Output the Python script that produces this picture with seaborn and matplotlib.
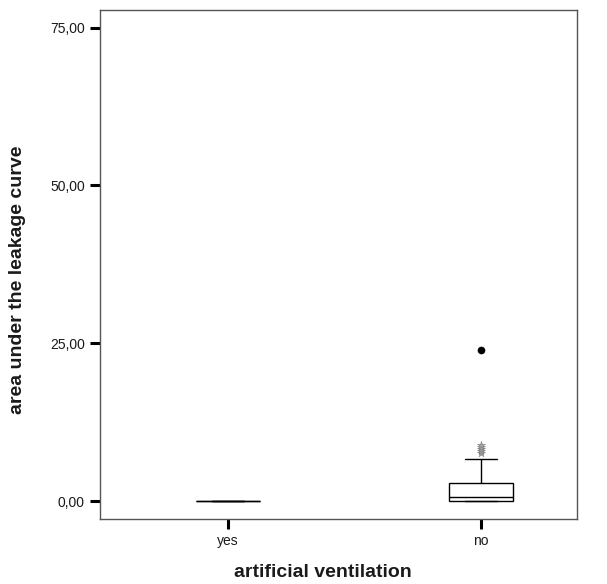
import numpy as np
import pandas as pd
import matplotlib
matplotlib.use("Agg")
import matplotlib.pyplot as plt
import seaborn as sns

categories = ["yes", "no"]

# area under the leakage curve per group
yes_values = [0.0, 0.0, 0.0, 0.0, 0.0, 0.0, 0.0, 0.0]
no_values = [0.0, 0.0, 0.0, 0.0, 0.0, 0.0, 0.0, 0.0, 0.0, 0.0, 0.0,
             0.02, 0.05, 0.1, 0.15, 0.2, 0.3, 0.4, 0.5, 0.6,
             0.68,
             0.8, 0.95, 1.1, 1.3, 1.5, 1.8, 2.1, 2.4, 2.7,
             2.9,
             3.3, 4.2, 5.2, 6.6,
             7.6, 8.0, 8.3, 8.6, 8.9, 23.9]

outlier_values = [7.6, 8.0, 8.3, 8.6, 8.9]
extreme_values = [23.9]

y_ticks = [0, 25, 50, 75]

df = pd.DataFrame({
    "group": ["yes"] * len(yes_values) + ["no"] * len(no_values),
    "value": yes_values + no_values,
})

sns.set_style("white")
plt.rcParams["font.family"] = ["Liberation Sans", "DejaVu Sans"]
plt.rcParams["text.color"] = "#1a1a1a"
plt.rcParams["axes.labelcolor"] = "#1a1a1a"
plt.rcParams["xtick.labelcolor"] = "#1a1a1a"
plt.rcParams["ytick.labelcolor"] = "#1a1a1a"

fig = plt.figure(figsize=(6.07, 5.84), dpi=100)
ax = fig.add_axes([0.1647, 0.1113, 0.7859, 0.8716])

line = dict(color="black", linewidth=1)
sns.boxplot(data=df, x="group", y="value", order=categories, width=0.253,
            showfliers=False, whis=1.5, ax=ax,
            boxprops=dict(facecolor="white", edgecolor="black", linewidth=1),
            medianprops=line, whiskerprops=line, capprops=line)

out_df = pd.DataFrame({"group": ["no"] * len(outlier_values), "value": outlier_values})
ext_df = pd.DataFrame({"group": ["no"] * len(extreme_values), "value": extreme_values})
sns.stripplot(data=out_df, x="group", y="value", order=categories, jitter=False,
              marker="*", size=6, color="#a0a0a0", linewidth=0.3, edgecolor="#777777", ax=ax)
sns.stripplot(data=ext_df, x="group", y="value", order=categories, jitter=False,
              marker="o", size=5.5, color="black", ax=ax)

ax.set_xlim(-0.506, 1.38)
ax.set_ylim(-2.85, 77.8)
ax.set_yticks(y_ticks)
ax.set_yticklabels([f"{v:.2f}".replace(".", ",") for v in y_ticks])

for s in ax.spines.values():
    s.set_color("#555555")
    s.set_linewidth(1)

ax.tick_params(axis="both", direction="out", length=7, width=2.2, color="black",
               labelsize=10, pad=4, left=True, bottom=True)

ax.set_xlabel("artificial ventilation", fontsize=14, fontweight="bold")
ax.set_ylabel("area under the leakage curve", fontsize=14, fontweight="bold")
ax.xaxis.set_label_coords(0.4675, -0.106)
ax.yaxis.set_label_coords(-0.172, 0.4696)
ax.xaxis.label.set_verticalalignment("center")
ax.yaxis.label.set_verticalalignment("center")

fig.savefig("out.png", dpi=100)
